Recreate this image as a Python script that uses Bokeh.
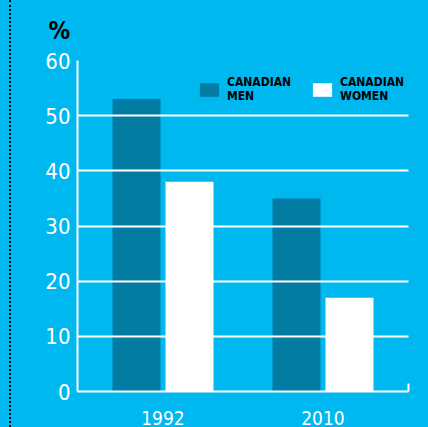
from bokeh.plotting import figure
from bokeh.models import (FactorRange, Range1d, FixedTicker, ColumnDataSource,
                          Legend, LegendItem, LinearAxis, Div)
from bokeh.transform import dodge
from bokeh.layouts import row
from bokeh.embed import file_html
from bokeh.resources import INLINE

# ---- data ----
years = ["1992", "2010"]
men = [53, 35]
women = [38, 17]
y_ticks = [0, 10, 20, 30, 40, 50, 60]
series_labels = ["CANADIAN\nMEN", "CANADIAN\nWOMEN"]
y_unit = "%"

# ---- style ----
BG = "#00B8F0"
MEN_C = "#037CA4"
WOMEN_C = "#FFFFFF"
FONT = "DejaVu Sans Condensed"

src = ColumnDataSource(dict(year=years, men=men, women=women))

p = figure(x_range=FactorRange(factors=years, range_padding=0.0345),
           y_range=Range1d(0, 60),
           width=416, height=427, output_backend="svg", toolbar_location=None,
           min_border_left=65, min_border_right=20, min_border_top=60, min_border_bottom=36,
           background_fill_color=BG, border_fill_color=BG, outline_line_color=None)

r_men = p.vbar(x=dodge("year", -0.1656, range=p.x_range), top="men", width=0.3,
               source=src, fill_color=MEN_C, line_color=None)
r_women = p.vbar(x=dodge("year", 0.1656, range=p.x_range), top="women", width=0.3,
                 source=src, fill_color=WOMEN_C, line_color=None)

# x axis (bottom)
xax = p.below[0]
xax.axis_line_color = "white"
xax.axis_line_width = 2
xax.major_tick_line_color = None
xax.minor_tick_line_color = None
xax.major_tick_out = 0
xax.major_tick_in = 0
xax.major_label_text_color = "white"
xax.major_label_text_font = FONT
xax.major_label_text_font_size = "19px"
xax.major_label_standoff = 19

# y axis
yax = p.left[0]
yax.ticker = FixedTicker(ticks=y_ticks)
yax.axis_line_color = "white"
yax.axis_line_width = 2
yax.major_tick_line_color = None
yax.minor_tick_line_color = None
yax.major_tick_out = 0
yax.major_tick_in = 0
yax.major_label_text_color = "white"
yax.major_label_text_font = FONT
yax.major_label_text_font_size = "22px"
yax.major_label_standoff = 7

p.ygrid.grid_line_color = "white"
p.ygrid.grid_line_width = 2
p.ygrid.level = "overlay"
p.xgrid.grid_line_color = None

# unit label as title, top-left
p.title.text = y_unit
p.title.align = "left"
p.title.vertical_align = "top"
p.title.offset = -29
p.title.standoff = 28
p.title.text_font = FONT
p.title.text_font_style = "bold"
p.title.text_font_size = "24px"
p.title.text_color = "black"

# short end stub at the right of the baseline
stub = LinearAxis(ticker=FixedTicker(ticks=[]), bounds=(0, 1.45),
                  axis_line_color="white", axis_line_width=2,
                  major_tick_line_color=None, minor_tick_line_color=None,
                  major_tick_out=0, major_label_standoff=0)
p.add_layout(stub, "right")

# legend
legend = Legend(items=[LegendItem(label=series_labels[0], renderers=[r_men]),
                       LegendItem(label=series_labels[1], renderers=[r_women])],
                orientation="horizontal", location=(120, 288),
                glyph_width=24, glyph_height=17, label_standoff=6, spacing=0,
                label_width=83, padding=0, margin=0, border_line_color=None,
                background_fill_alpha=0, label_text_font=FONT,
                label_text_font_style="bold", label_text_font_size="12px",
                label_text_color="black", label_text_line_height=1.35)
p.add_layout(legend)

dots = Div(text='<div style="margin-left:9px;width:0;height:427px;border-left:2px dotted #000;"></div>',
           width=12, height=427, margin=0)

layout = row(dots, p)

html = file_html(layout, INLINE)
html = html.replace("</head>", "<style>body{background:%s;}</style></head>" % BG, 1)
open("out.html", "w").write(html)
